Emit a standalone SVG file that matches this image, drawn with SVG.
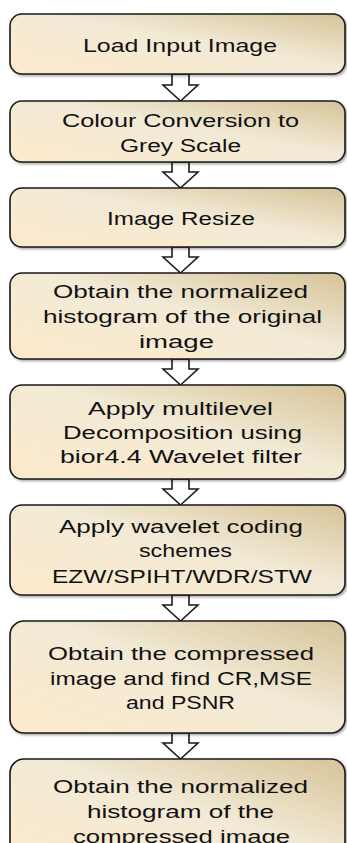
<svg xmlns="http://www.w3.org/2000/svg" width="347" height="843" viewBox="0 0 347 843">
<defs>
<linearGradient id="g" x1="0" y1="1" x2="1" y2="0">
<stop offset="0" stop-color="#FDEACB"/>
<stop offset="0.55" stop-color="#F2EAD6"/>
<stop offset="1" stop-color="#D6C398"/>
</linearGradient>
<filter id="sh" x="-5%" y="-5%" width="110%" height="115%">
<feDropShadow dx="1.5" dy="1.5" stdDeviation="1" flood-color="#000" flood-opacity="0.35"/>
</filter>
<style>
.box{fill:url(#g);stroke:#1a1a1a;stroke-width:1.6;filter:url(#sh)}
.t{font-family:"Liberation Sans",Arial,sans-serif;font-size:17.5px;fill:#111;text-anchor:middle}
.ar{fill:#fff;stroke:#1a1a1a;stroke-width:1.6;stroke-linejoin:miter}
</style>
</defs>
<g id="connectors">
<polygon class="ar" points="172,74 189,74 189,85 198,85 180.5,101 163,85 172,85"/>
<polygon class="ar" points="172,162 189,162 189,172 198,172 180.5,188 163,172 172,172"/>
<polygon class="ar" points="172,247 189,247 189,257 198,257 180.5,273 163,257 172,257"/>
<polygon class="ar" points="172,359 189,359 189,369 198,369 180.5,385 163,369 172,369"/>
<polygon class="ar" points="172,479 189,479 189,489 198,489 180.5,505 163,489 172,489"/>
<polygon class="ar" points="172,595 189,595 189,605 198,605 180.5,621 163,605 172,605"/>
<polygon class="ar" points="172,733 189,733 189,743 198,743 180.5,759 163,743 172,743"/>
</g>
<g id="n1">
<rect class="box" x="10" y="14" width="335" height="60" rx="12"/>
<text class="t" x="180" y="52" textLength="194" lengthAdjust="spacingAndGlyphs">Load Input Image</text>
</g>
<g id="n2">
<rect class="box" x="10" y="101" width="335" height="61" rx="12"/>
<text class="t" x="180.5" y="127" textLength="237" lengthAdjust="spacingAndGlyphs">Colour Conversion to</text>
<text class="t" x="180.5" y="152" textLength="121" lengthAdjust="spacingAndGlyphs">Grey  Scale</text>
</g>
<g id="n3">
<rect class="box" x="10" y="188" width="335" height="59" rx="12"/>
<text class="t" x="181" y="225" textLength="148" lengthAdjust="spacingAndGlyphs">Image Resize</text>
</g>
<g id="n4">
<rect class="box" x="10" y="273" width="335" height="86" rx="12"/>
<text class="t" x="180.5" y="298" textLength="255" lengthAdjust="spacingAndGlyphs">Obtain the normalized</text>
<text class="t" x="182.5" y="323" textLength="279" lengthAdjust="spacingAndGlyphs">histogram of the original</text>
<text class="t" x="176.5" y="348" textLength="75" lengthAdjust="spacingAndGlyphs">image</text>
</g>
<g id="n5">
<rect class="box" x="10" y="385" width="335" height="94" rx="12"/>
<text class="t" x="180.5" y="415" textLength="185" lengthAdjust="spacingAndGlyphs">Apply multilevel</text>
<text class="t" x="182.5" y="439" textLength="239" lengthAdjust="spacingAndGlyphs">Decomposition using</text>
<text class="t" x="181" y="463" textLength="242" lengthAdjust="spacingAndGlyphs">bior4.4 Wavelet filter</text>
</g>
<g id="n6">
<rect class="box" x="10" y="505" width="335" height="90" rx="12"/>
<text class="t" x="181" y="533" textLength="244" lengthAdjust="spacingAndGlyphs">Apply wavelet coding</text>
<text class="t" x="185.5" y="557" textLength="93" lengthAdjust="spacingAndGlyphs">schemes</text>
<text class="t" x="182" y="583" textLength="260" lengthAdjust="spacingAndGlyphs">EZW/SPIHT/WDR/STW</text>
</g>
<g id="n7">
<rect class="box" x="10" y="621" width="335" height="112" rx="14"/>
<text class="t" x="181" y="660" textLength="266" lengthAdjust="spacingAndGlyphs">Obtain the compressed</text>
<text class="t" x="181" y="685" textLength="262" lengthAdjust="spacingAndGlyphs">image and find CR,MSE</text>
<text class="t" x="180.5" y="709" textLength="109" lengthAdjust="spacingAndGlyphs">and PSNR</text>
</g>
<g id="n8">
<rect class="box" x="10" y="759" width="335" height="112" rx="14"/>
<text class="t" x="180.5" y="793" textLength="255" lengthAdjust="spacingAndGlyphs">Obtain the normalized</text>
<text class="t" x="180.5" y="818" textLength="187" lengthAdjust="spacingAndGlyphs">histogram of the</text>
<text class="t" x="181.5" y="843" textLength="217" lengthAdjust="spacingAndGlyphs">compressed image</text>
</g>
</svg>
